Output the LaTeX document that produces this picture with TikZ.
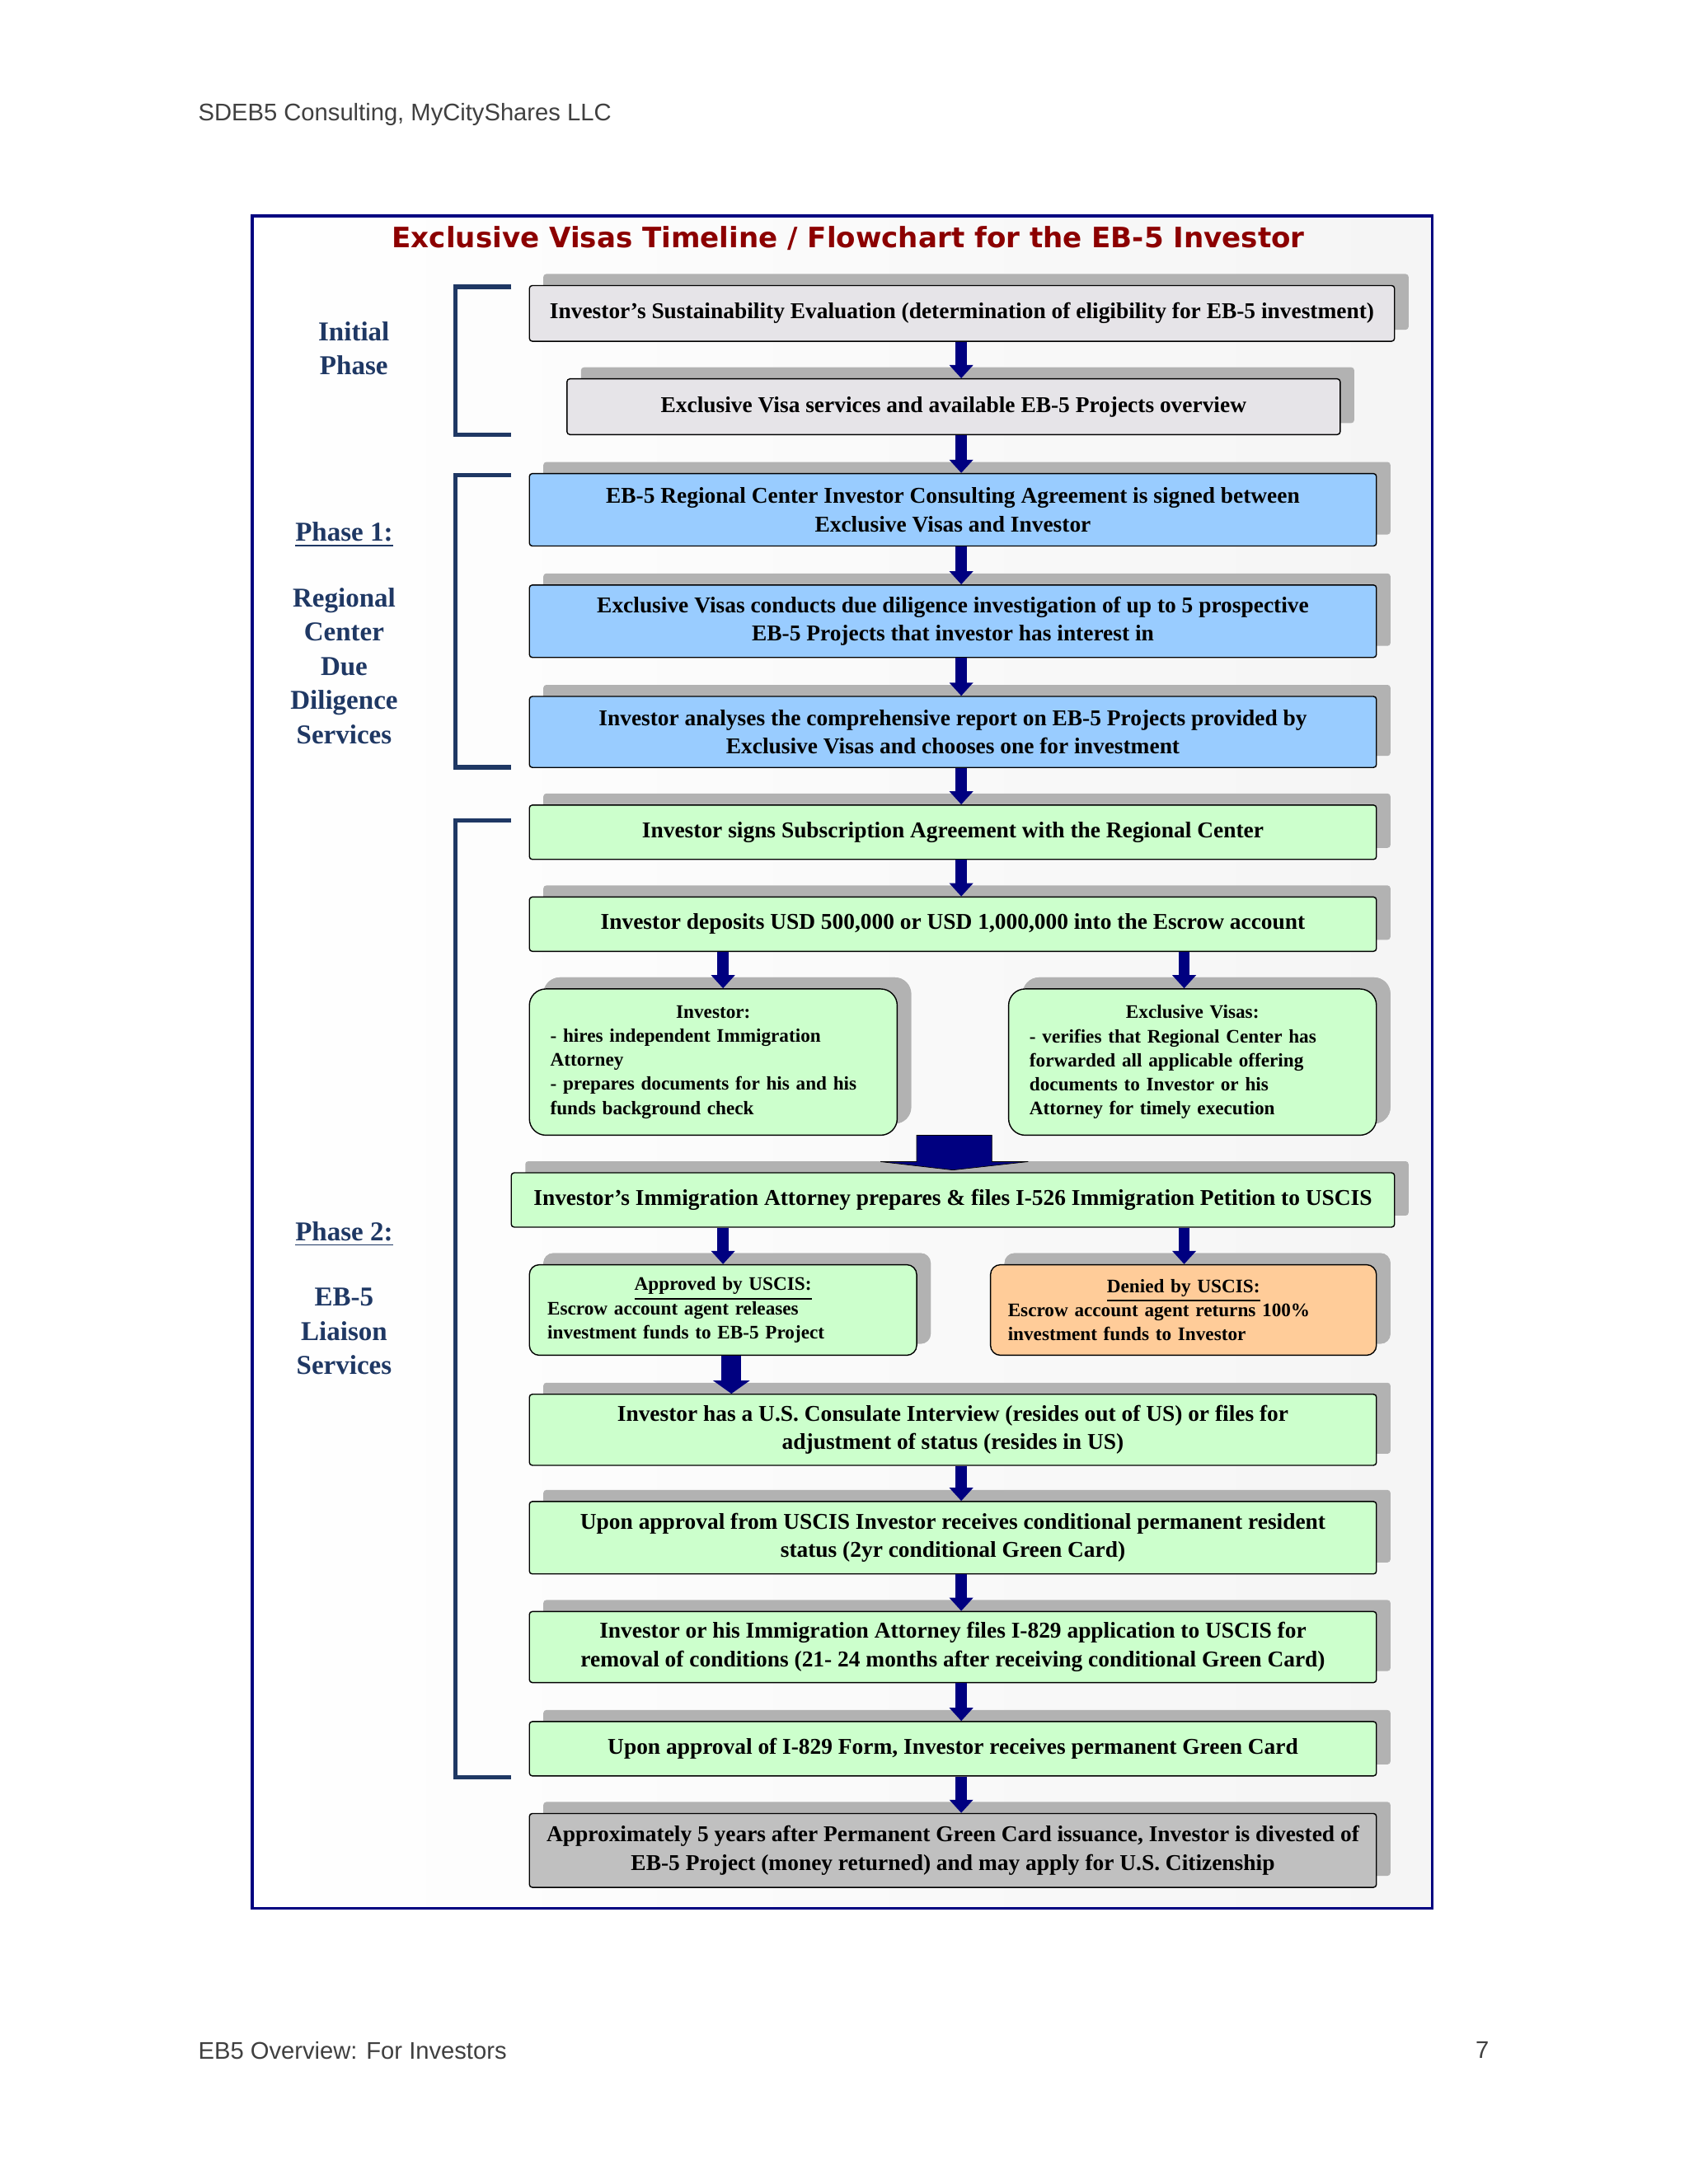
\documentclass[tikz,border=0pt]{standalone}
\usepackage{fontspec}
\setmainfont{Liberation Serif}
\newfontfamily\hsans{Liberation Sans}
\newfontfamily\tsans{DejaVu Sans}
\usetikzlibrary{arrows.meta}
\usetikzlibrary{shadows}
\definecolor{navy}{RGB}{0,0,128}
\definecolor{ink}{RGB}{31,56,100}
\definecolor{boxgrey}{RGB}{230,228,232}
\definecolor{boxdark}{RGB}{192,192,192}
\definecolor{boxblue}{RGB}{153,204,255}
\definecolor{boxgreen}{RGB}{204,255,204}
\definecolor{boxorange}{RGB}{255,204,153}
\definecolor{titlered}{RGB}{140,0,0}
\newcommand\pxl[1]{#1*0.169mm}
\newcommand\bx{\fontsize{7.8}{9.8}\selectfont\bfseries}
\newcommand\sbx{\fontsize{6.6}{8.3}\selectfont\bfseries}
\newcommand\pgfont{\hsans\fontsize{8.3}{10}\selectfont}
\tikzset{box/.style = {draw = black, rounded corners = 1pt, align = center, inner sep = 0, font = \bx,
                       drop shadow = {shadow xshift = 1.7mm, shadow yshift = 1.4mm, fill = black!30, opacity = 1}},
         gbox/.style = {box, fill = boxgrey},
         dbox/.style = {box, fill = boxdark},
         bbox/.style = {box, fill = boxblue},
         vbox/.style = {box, fill = boxgreen},
         rbox/.style = {box, rounded corners = 2mm, font = \sbx, align = left},
         arr/.style = {navy, line width = 1.35mm, -{Triangle[width = 2.8mm, length = 1.6mm]}},
         brk/.style = {ink, line width = 0.55mm},
         side/.style = {ink, font = \fontsize{9.4}{11.8}\selectfont\bfseries, align = center}}
\begin{document}
\begin{tikzpicture}[x = 0.169mm, y = -0.169mm]
  \useasboundingbox (0,0) rectangle (1212,1568);
  \fill[white] (0,0) rectangle (1212,1568);
  \shade[left color = white, right color = black!4] (181,155) rectangle (1028,1370);
  \draw[navy, line width = 0.35mm] (181,155) rectangle (1028,1370);

  \node[anchor = west, inner sep = 0, black!75, font = \pgfont] (head) at (142,82) {SDEB5 Consulting, MyCityShares LLC};
  \node[anchor = west, inner sep = 0, black!75, font = \pgfont] (foot) at (142,1472) {EB5 Overview: For Investors};
  \node[inner sep = 0, black!75, font = \pgfont] (page) at (1064,1472) {7};
  \node[titlered, font = \tsans\fontsize{9.7}{11}\selectfont\bfseries] (title) at (609,171) {Exclusive Visas Timeline / Flowchart for the EB-5 Investor};

  % phase labels
  \node[side] (ini) at (254,250) {Initial\\Phase};
  \node[side] (ph1) at (247,384) {\underline{Phase 1:}};
  \node[side] (rcs) at (247,478) {Regional\\Center\\Due\\Diligence\\Services};
  \node[side] (ph2) at (247,886) {\underline{Phase 2:}};
  \node[side] (lia) at (247,956) {EB-5\\Liaison\\Services};
  \draw[brk] (367,206) -- (327,206) -- (327,312) -- (367,312);
  \draw[brk] (367,341) -- (327,341) -- (327,551) -- (367,551);
  \draw[brk] (367,589) -- (327,589) -- (327,1276) -- (367,1276);

  % steps
  \node[gbox, minimum width = \pxl{621}, minimum height = \pxl{40}] (s1) at (690.5,225) {Investor’s Sustainability Evaluation (determination of eligibility for EB-5 investment)};
  \node[gbox, minimum width = \pxl{555}, minimum height = \pxl{40}] (s2) at (684.5,292) {Exclusive Visa services and available EB-5 Projects overview};
  \node[bbox, minimum width = \pxl{608}, minimum height = \pxl{52}] (p1) at (684,366) {EB-5 Regional Center Investor Consulting Agreement is signed between\\Exclusive Visas and Investor};
  \node[bbox, minimum width = \pxl{608}, minimum height = \pxl{52}] (p2) at (684,446) {Exclusive Visas conducts due diligence investigation of up to 5 prospective\\EB-5 Projects that investor has interest in};
  \node[bbox, minimum width = \pxl{608}, minimum height = \pxl{51}] (p3) at (684,525.5) {Investor analyses the comprehensive report on EB-5 Projects provided by\\Exclusive Visas and chooses one for investment};
  \node[vbox, minimum width = \pxl{608}, minimum height = \pxl{39}] (q1) at (684,597.5) {Investor signs Subscription Agreement with the Regional Center};
  \node[vbox, minimum width = \pxl{608}, minimum height = \pxl{39}] (q2) at (684,663.5) {Investor deposits USD 500,000 or USD 1,000,000 into the Escrow account};
  \node[vbox, rbox, minimum width = \pxl{264}, minimum height = \pxl{105}, text width = \pxl{234}] (qa) at (512,762.5)
    {\makebox[\linewidth]{Investor:}\\- hires independent Immigration\\Attorney\\- prepares documents for his and his\\funds background check};
  \node[vbox, rbox, minimum width = \pxl{264}, minimum height = \pxl{105}, text width = \pxl{234}] (qb) at (856,762.5)
    {\makebox[\linewidth]{Exclusive Visas:}\\- verifies that Regional Center has\\forwarded all applicable offering\\documents to Investor or his\\Attorney for timely execution};
  \node[vbox, minimum width = \pxl{634}, minimum height = \pxl{39}] (q3) at (684,861.5) {Investor’s Immigration Attorney prepares \& files I-526 Immigration Petition to USCIS};
  \node[vbox, rbox, rounded corners = 1.2mm, minimum width = \pxl{278}, minimum height = \pxl{65}, text width = \pxl{252}] (qc) at (519,940.5)
    {\makebox[\linewidth]{\underline{Approved by USCIS:}}\\Escrow account agent releases\\investment funds to EB-5 Project};
  \node[box, fill = boxorange, rbox, rounded corners = 1.2mm, minimum width = \pxl{277}, minimum height = \pxl{65}, text width = \pxl{252}] (qd) at (849.5,940.5)
    {\makebox[\linewidth]{\underline{Denied by USCIS:}}\\Escrow account agent returns 100\%\\investment funds to Investor};
  \node[vbox, minimum width = \pxl{608}, minimum height = \pxl{51}] (q4) at (684,1026.5) {Investor has a U.S. Consulate Interview (resides out of US) or files for\\adjustment of status (resides in US)};
  \node[vbox, minimum width = \pxl{608}, minimum height = \pxl{52}] (q5) at (684,1104) {Upon approval from USCIS Investor receives conditional permanent resident\\status (2yr conditional Green Card)};
  \node[vbox, minimum width = \pxl{608}, minimum height = \pxl{51}] (q6) at (684,1182.5) {Investor or his Immigration Attorney files I-829 application to USCIS for\\removal of conditions (21- 24 months after receiving conditional Green Card)};
  \node[vbox, minimum width = \pxl{608}, minimum height = \pxl{39}] (q7) at (684,1255.5) {Upon approval of I-829 Form, Investor receives permanent Green Card};
  \node[dbox, minimum width = \pxl{608}, minimum height = \pxl{53}] (q8) at (684,1328.5) {Approximately 5 years after Permanent Green Card issuance, Investor is divested of\\EB-5 Project (money returned) and may apply for U.S. Citizenship};

  % connectors
  \coordinate (ax) at (690,0);
  \coordinate (al) at (519,0);
  \coordinate (ar) at (850,0);
  \coordinate (am) at (525,0);
  \draw[arr] (s1.south -| ax) -- (s2.north -| ax);
  \draw[arr] (s2.south -| ax) -- (p1.north -| ax);
  \draw[arr] (p1.south -| ax) -- (p2.north -| ax);
  \draw[arr] (p2.south -| ax) -- (p3.north -| ax);
  \draw[arr] (p3.south -| ax) -- (q1.north -| ax);
  \draw[arr] (q1.south -| ax) -- (q2.north -| ax);
  \draw[arr] (q2.south -| al) -- (qa.north -| al);
  \draw[arr] (q2.south -| ar) -- (qb.north -| ar);
  \fill[navy, draw = black, line width = 0.2pt] (684,840) -- (738,834) -- (712,834) -- (712,815) -- (658,815) -- (658,834) -- (632,834) -- cycle;
  \draw[arr] (q3.south -| al) -- (qc.north -| al);
  \draw[arr] (q3.south -| ar) -- (qd.north -| ar);
  \draw[arr, line width = 2.4mm, -{Triangle[width = 4.4mm, length = 1.6mm]}] (qc.south -| am) -- (q4.north -| am);
  \draw[arr] (q4.south -| ax) -- (q5.north -| ax);
  \draw[arr] (q5.south -| ax) -- (q6.north -| ax);
  \draw[arr] (q6.south -| ax) -- (q7.north -| ax);
  \draw[arr] (q7.south -| ax) -- (q8.north -| ax);
\end{tikzpicture}
\end{document}
